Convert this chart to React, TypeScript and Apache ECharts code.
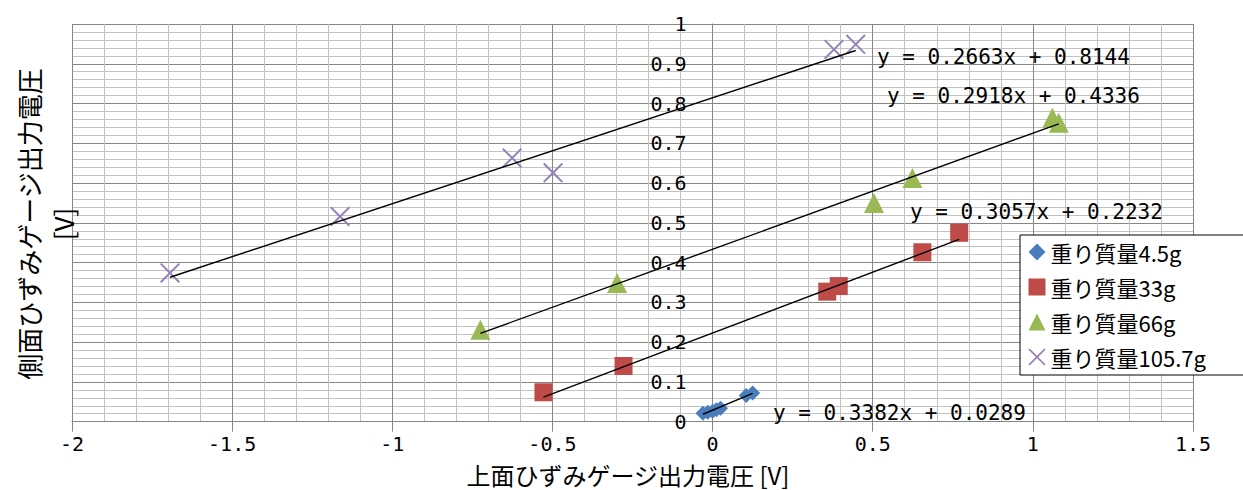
import React, { useEffect, useRef } from "react";
import * as echarts from "echarts";

const seriesNames = ["重り質量4.5g", "重り質量33g", "重り質量66g", "重り質量105.7g"];

const x45 = [-0.03, -0.015, 0.0, 0.012, 0.025, 0.105, 0.125];
const y45 = [0.021, 0.024, 0.026, 0.03, 0.034, 0.066, 0.072];

const x33 = [-0.528, -0.278, 0.358, 0.394, 0.655, 0.77];
const y33 = [0.074, 0.14, 0.327, 0.341, 0.426, 0.475];

const x66 = [-0.725, -0.298, 0.504, 0.624, 1.061, 1.081];
const y66 = [0.231, 0.349, 0.55, 0.613, 0.764, 0.752];

const x105 = [-1.694, -1.163, -0.626, -0.498, 0.379, 0.447];
const y105 = [0.374, 0.516, 0.663, 0.626, 0.936, 0.949];

const slopes = [0.3382, 0.3057, 0.2918, 0.2663];
const intercepts = [0.0289, 0.2232, 0.4336, 0.8144];

const xTickMin = -2;
const xTickMax = 1.5;
const xTickStep = 0.5;
const yTickMin = 0;
const yTickMax = 1;
const yTickStep = 0.1;

const COLORS = ["#4a7ebb", "#be4b48", "#98b954", "#9483b8"];
const XSYM =
  "path://M0,0.7L0.7,0L10,9.3L9.3,10Z M9.3,0L10,0.7L0.7,10L0,9.3Z";
const SYMBOLS = ["diamond", "rect", "triangle", XSYM];
const SIZES = [15, 18, 20, 20];

const MONO = "DejaVu Sans Mono";
const JP = "Noto Sans CJK JP";

const GRID_LEFT = 72;
const GRID_RIGHT_X = 1193;

export default function App() {
  const ref = useRef<HTMLDivElement>(null);

  useEffect(() => {
    if (!ref.current) return;
    const chart = echarts.init(ref.current, null, { renderer: "svg" });

    const xs = [x45, x33, x66, x105];
    const ys = [y45, y33, y66, y105];

    const scatterSeries = seriesNames.map((name, i) => ({
      name,
      type: "scatter",
      symbol: SYMBOLS[i],
      symbolSize: SIZES[i],
      itemStyle: { color: COLORS[i], opacity: 1 },
      data: xs[i].map((x, j) => [x, ys[i][j]]),
      z: 2,
    }));

    const trendSeries = seriesNames.map((name, i) => {
      const lo = Math.min(...xs[i]);
      const hi = Math.max(...xs[i]);
      return {
        name: name + " trend",
        type: "line",
        symbol: "none",
        silent: true,
        lineStyle: { color: "#000", width: 1.4 },
        data: [
          [lo, slopes[i] * lo + intercepts[i]],
          [hi, slopes[i] * hi + intercepts[i]],
        ],
        z: 3,
      };
    });

    const eqPos = [
      [773, 414],
      [910, 213],
      [887, 97],
      [877, 58],
    ];
    const eqTexts = slopes.map(
      (s, i) => `y = ${s.toFixed(4)}x + ${intercepts[i].toFixed(4)}`
    );

    const zeroPx =
      GRID_LEFT + ((0 - xTickMin) / (xTickMax - xTickMin)) * (GRID_RIGHT_X - GRID_LEFT);

    chart.setOption({
      animation: false,
      backgroundColor: "#fff",
      grid: { left: GRID_LEFT, right: 1243 - GRID_RIGHT_X, top: 24, bottom: 68.3, containLabel: false },
      xAxis: {
        type: "value",
        min: xTickMin,
        max: xTickMax,
        interval: xTickStep,
        axisLine: { show: true, onZero: false, lineStyle: { color: "#868686", width: 1 } },
        axisTick: { show: true, length: 10, lineStyle: { color: "#868686" } },
        minorTick: { show: false, splitNumber: 5 },
        axisLabel: {
          margin: 12,
          color: "#000",
          fontFamily: MONO,
          fontSize: 20,
        },
        splitLine: { show: true, lineStyle: { color: "#868686", width: 1 } },
        minorSplitLine: { show: true, lineStyle: { color: "#c2c2c2", width: 1 } },
      },
      yAxis: {
        type: "value",
        min: yTickMin,
        max: yTickMax,
        interval: yTickStep,
        position: "left",
        offset: -(zeroPx - GRID_LEFT),
        axisLine: { show: true, onZero: false, lineStyle: { color: "#868686", width: 1 } },
        axisTick: { show: false },
        minorTick: { show: false, splitNumber: 5 },
        axisLabel: {
          margin: 26,
          color: "#000",
          fontFamily: MONO,
          fontSize: 20,
        },
        splitLine: { show: true, lineStyle: { color: "#868686", width: 1 } },
        minorSplitLine: { show: true, lineStyle: { color: "#c2c2c2", width: 1 } },
      },
      legend: {
        data: seriesNames,
        orient: "vertical",
        left: 1020,
        top: 235,
        padding: [6, 40, 7, 8.5],
        itemGap: 13,
        itemWidth: 17,
        itemHeight: 17,
        borderColor: "#000",
        borderWidth: 1,
        backgroundColor: "#fff",
        textStyle: { fontFamily: JP, fontSize: 22, color: "#000" },
        selectedMode: false,
      },
      graphic: [
        ...eqTexts.map((t, i) => ({
          type: "text",
          left: eqPos[i][0],
          top: eqPos[i][1] - 12,
          z: 10,
          style: {
            text: t,
            fontFamily: MONO,
            fontSize: 21,
            fill: "#000",
          },
        })),
        {
          type: "text",
          x: 628,
          y: 474,
          z: 10,
          style: {
            text: "上面ひずみゲージ出力電圧 [V]",
            fontFamily: JP,
            fontSize: 24,
            lineHeight: 26,
            fill: "#000",
            textAlign: "center",
            textVerticalAlign: "middle",
          },
        },
        {
          type: "text",
          x: 45,
          y: 224,
          rotation: Math.PI / 2,
          z: 10,
          style: {
            text: "側面ひずみゲージ出力電圧\n[V]",
            fontFamily: JP,
            fontSize: 26,
            lineHeight: 34,
            fill: "#000",
            textAlign: "center",
            textVerticalAlign: "middle",
          },
        },
      ],
      series: [...scatterSeries, ...trendSeries],
    });

    return () => chart.dispose();
  }, []);

  return (
    <div
      ref={ref}
      style={{ position: "absolute", left: 0, top: 0, width: 1243, height: 490 }}
    />
  );
}
